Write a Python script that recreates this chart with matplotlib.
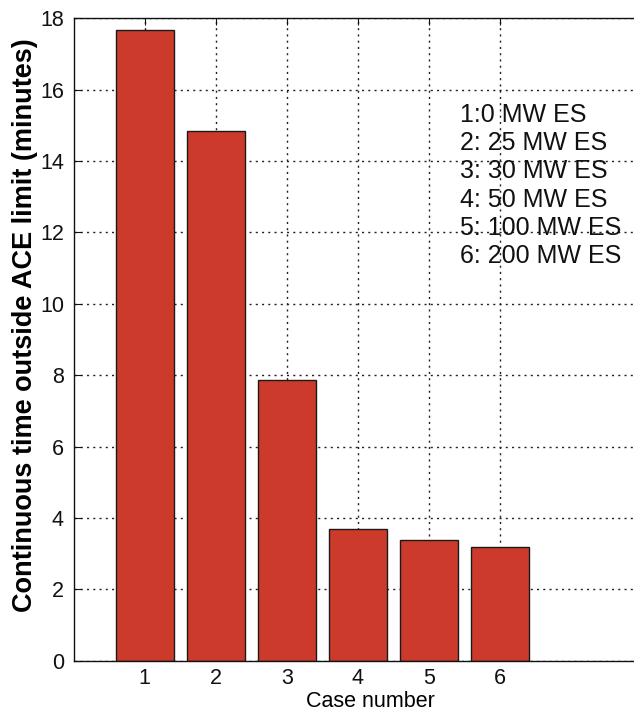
import matplotlib
matplotlib.use("Agg")
import matplotlib.pyplot as plt

plt.rcParams['font.family'] = ['Liberation Sans', 'DejaVu Sans']

cases = [1, 2, 3, 4, 5, 6]
minutes = [17.67, 14.84, 7.86, 3.69, 3.37, 3.19]
case_labels = ["1:0 MW ES", "2: 25 MW ES", "3: 30 MW ES",
               "4: 50 MW ES", "5: 100 MW ES", "6: 200 MW ES"]
yticks = [0, 2, 4, 6, 8, 10, 12, 14, 16, 18]

W, H = 634, 715
fig = plt.figure(figsize=(W / 100, H / 100), dpi=100)
left, right = 73.7, 642.0
top, bottom = 18.3, 660.7
ax = fig.add_axes([left / W, 1 - bottom / H, (right - left) / W, (bottom - top) / H])

ax.bar(cases, minutes, width=0.82, color='#CC3A2B', edgecolor='#1a1a1a',
       linewidth=1.0, zorder=2)

ax.set_xlim(0, 8)
ax.set_ylim(0, 18)
ax.set_xticks(cases)
ax.set_yticks(yticks)
ax.tick_params(direction='in', length=5, width=0.8, labelsize=15.5,
               top=True, right=True, colors='#111111', pad=7)
ax.tick_params(axis='x', pad=5.5)
ax.grid(True, color='#222222', linestyle=(0, (1.5, 3)), linewidth=1.0, zorder=1)
for s in ax.spines.values():
    s.set_color('#111111')
    s.set_linewidth(1.0)

ax.set_xlabel("Case number", fontsize=15.5)
ax.xaxis.set_label_coords((370 - left) / (right - left), -(691 - bottom) / (bottom - top))
ax.set_ylabel("Continuous time outside ACE limit (minutes)", fontsize=19.5,
              fontweight='bold')
ax.yaxis.set_label_coords(-0.062, 0.523)

# case legend, one line per entry
x0 = 460 / W
for k, lab in enumerate(case_labels):
    yb = 122 + k * 28.2
    fig.text(x0, 1 - yb / H, lab, fontsize=18, va='baseline', ha='left',
             color='#111111')

fig.savefig("out.png", dpi=100)
